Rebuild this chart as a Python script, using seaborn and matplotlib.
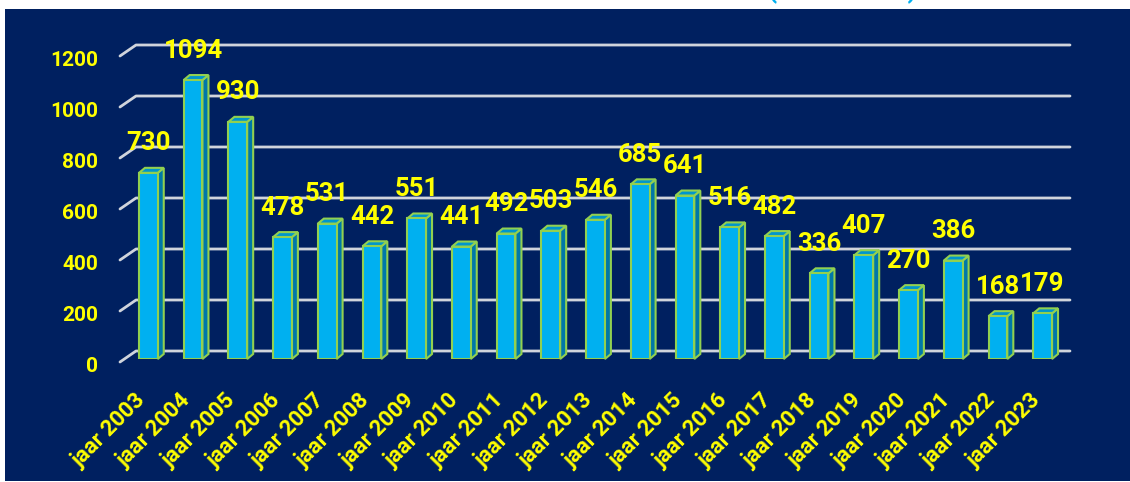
import matplotlib
matplotlib.use("Agg")
import matplotlib.pyplot as plt
import matplotlib.transforms as mtransforms
from matplotlib.patches import Polygon, Rectangle
import pandas as pd
import seaborn as sns

# data
years = [str(y) for y in range(2003, 2024)]
labels = ["jaar " + y for y in years]
values = [730, 1094, 930, 478, 531, 442, 551, 441, 492, 503, 546,
          685, 641, 516, 482, 336, 407, 270, 386, 168, 179]
y_ticks = [0, 200, 400, 600, 800, 1000, 1200]

NAVY = "#002060"
BLUE = "#00B0F0"
GREEN = "#92D050"
SIDE = "#0078A8"
TOP = "#0096CC"
YELLOW = "#FFFF00"

df = pd.DataFrame({"label": labels, "value": values})

sns.set_theme(style="white")
plt.rcParams["font.family"] = ["Roboto", "DejaVu Sans"]
plt.rcParams["font.weight"] = "bold"

fig = plt.figure(figsize=(11.3, 4.82), dpi=100, facecolor="white")
fig.add_artist(Rectangle((5 / 1130, 1 / 482), 1, 472 / 482,
                         transform=fig.transFigure, facecolor=NAVY,
                         edgecolor="none", zorder=-10))

# cut-off title at the very top (only descenders visible)
fig.text(0.745, 1 + 2 / 482, "(2003-2023)", color=BLUE, fontsize=19,
         fontweight="bold", ha="center", va="baseline")

ax = fig.add_axes([126 / 1130, 123 / 482, 939 / 1130, 306 / 482])
ax.set_facecolor("none")

sns.barplot(data=df, x="label", y="value", color=BLUE, width=0.42,
            edgecolor=GREEN, linewidth=1.5, saturation=1, ax=ax, zorder=3)

ax.set_xlim(-0.5, len(values) - 0.5)
ax.set_ylim(0, 1200)
ax.set_yticks(y_ticks)
ax.set_xlabel("")
ax.set_ylabel("")
sns.despine(ax=ax, left=True, bottom=True)
ax.grid(False)

ax.tick_params(axis="y", length=0, pad=20, labelsize=15, labelcolor=YELLOW)
ax.tick_params(axis="x", length=0, pad=22, labelsize=16, labelcolor=YELLOW)
for t in ax.get_yticklabels():
    t.set_fontweight("bold")
    t.set_transform(t.get_transform() +
                    mtransforms.ScaledTranslation(0, -4 / 72, fig.dpi_scale_trans))
for t in ax.get_xticklabels():
    t.set_fontweight("bold")
    t.set_rotation(45)
    t.set_ha("right")
    t.set_va("top")
    t.set_rotation_mode("anchor")
    t.set_transform(t.get_transform() +
                    mtransforms.ScaledTranslation(-10 / 72, 0, fig.dpi_scale_trans))

fig.canvas.draw()
ident = mtransforms.IdentityTransform()

# back-wall gridlines with slanted left part (3D look)
x_front = ax.transAxes.transform((0, 0))[0] - 6
x_right = ax.transAxes.transform((1, 0))[0] - 5
for v in y_ticks:
    yv = ax.transData.transform((0, v))[1]
    pts = [(x_front, yv - 3), (x_front + 16, yv + 8), (x_right + 10, yv + 8)]
    ax.add_line(plt.Line2D([p[0] for p in pts], [p[1] for p in pts],
                           transform=ident, color="#D0D4DC", lw=2,
                           zorder=1, clip_on=False))

# side and top faces of the bars
dx, dy = 6, 5
for bar in ax.patches[:len(values)]:
    x0, y0 = ax.transData.transform((bar.get_x(), 0))
    x1, y1 = ax.transData.transform((bar.get_x() + bar.get_width(), bar.get_height()))
    side = Polygon([(x1, y0), (x1 + dx, y0 + dy), (x1 + dx, y1 + dy), (x1, y1)],
                   closed=True, transform=ident, facecolor=SIDE, edgecolor=GREEN,
                   lw=1.5, zorder=2.5, clip_on=False)
    top = Polygon([(x0, y1), (x0 + dx, y1 + dy), (x1 + dx, y1 + dy), (x1, y1)],
                  closed=True, transform=ident, facecolor=TOP, edgecolor=GREEN,
                  lw=1.5, zorder=2.5, clip_on=False)
    ax.add_patch(side)
    ax.add_patch(top)

# value labels
for i, v in enumerate(values):
    ax.annotate(str(v), (i, v), xytext=(0, 12.5), textcoords="offset points",
                ha="center", va="bottom", color=YELLOW, fontsize=18.5,
                fontweight="bold", zorder=5, annotation_clip=False)

fig.savefig("out.png", dpi=100, facecolor=fig.get_facecolor())
